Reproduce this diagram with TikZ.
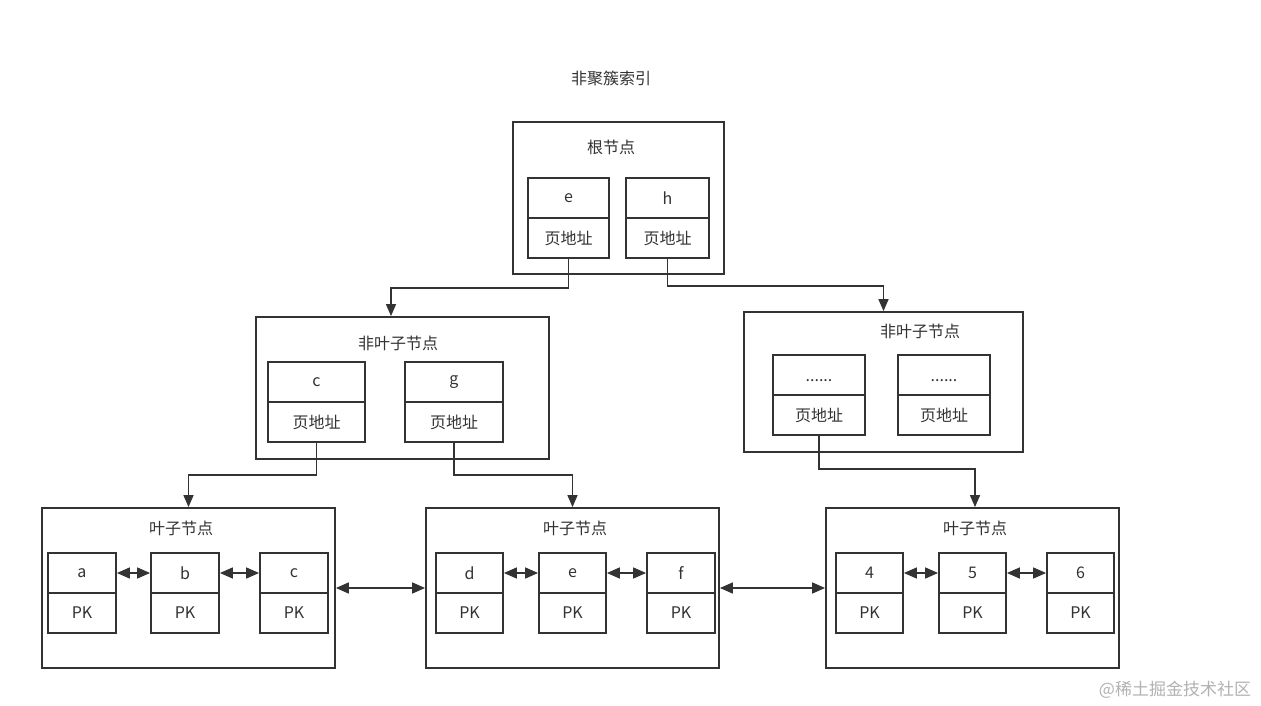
\documentclass[tikz,border=0pt]{standalone}
\usepackage{fontspec}
\setmainfont{Noto Sans CJK SC}
\usetikzlibrary{arrows.meta}
\definecolor{ink}{HTML}{333333}
\begin{document}
\begin{tikzpicture}[x=1pt,y=-1pt,
  every node/.style={font=\fontsize{16}{19}\selectfont, text=ink},
  frame/.style={draw=ink, line width=1.8pt, inner sep=0pt},
  cell/.style={draw=ink, line width=1.8pt, inner sep=0pt, minimum height=40pt},
  label/.style={inner sep=0pt},
  arr/.style={draw=ink, line width=1.5pt, -{Triangle[length=12pt,width=10pt]}},
  darr/.style={draw=ink, line width=1.5pt, {Triangle[length=13pt,width=11pt]}-{Triangle[length=13pt,width=11pt]}}
]
\useasboundingbox[fill=white] (0,0) rectangle (1261,706);

% title
\node[label] (title) at (611,78) {非聚簇索引};

% root
\node[frame, minimum width=211pt, minimum height=152pt] (root) at (618.5,198) {};
\node[label] (roott) at (611,147) {根节点};
\node[cell, minimum width=81pt] (re) at (568.5,198) {e};
\node[cell, minimum width=81pt] (rea) at (568.5,238) {页地址};
\node[cell, minimum width=83pt] (rh) at (667.5,198) {h};
\node[cell, minimum width=83pt] (rha) at (667.5,238) {页地址};

% non-leaf left
\node[frame, minimum width=293pt, minimum height=142pt] (nl1) at (402.5,388) {};
\node[label] (nl1t) at (398,343) {非叶子节点};
\node[cell, minimum width=97pt] (nc) at (316.5,382) {c};
\node[cell, minimum width=97pt] (nca) at (316.5,422) {页地址};
\node[cell, minimum width=98pt] (ng) at (454,382) {g};
\node[cell, minimum width=98pt] (nga) at (454,422) {页地址};

% non-leaf right
\node[frame, minimum width=279pt, minimum height=140pt] (nl2) at (883.5,382) {};
\node[label] (nl2t) at (920,331) {非叶子节点};
\node[cell, minimum width=92pt] (nd1) at (819,375) {\smash{\raisebox{-6pt}{......}}};
\node[cell, minimum width=92pt] (nd1a) at (819,415) {页地址};
\node[cell, minimum width=92pt] (nd2) at (944,375) {\smash{\raisebox{-6pt}{......}}};
\node[cell, minimum width=92pt] (nd2a) at (944,415) {页地址};

% leaves
\node[frame, minimum width=293pt, minimum height=160pt] (lf1) at (188.5,588) {};
\node[label] (lf1t) at (181,528) {叶子节点};
\node[frame, minimum width=293pt, minimum height=160pt] (lf2) at (572.5,588) {};
\node[label] (lf2t) at (575,528) {叶子节点};
\node[frame, minimum width=293pt, minimum height=160pt] (lf3) at (972.5,588) {};
\node[label] (lf3t) at (975,528) {叶子节点};

\node[cell, minimum width=68pt] (la) at (82,573) {a};
\node[cell, minimum width=68pt] (lak) at (82,613) {PK};
\node[cell, minimum width=68pt] (lb) at (185,573) {b};
\node[cell, minimum width=68pt] (lbk) at (185,613) {PK};
\node[cell, minimum width=68pt] (lc) at (294,573) {c};
\node[cell, minimum width=68pt] (lck) at (294,613) {PK};

\node[cell, minimum width=67pt] (ld) at (469.5,573) {d};
\node[cell, minimum width=67pt] (ldk) at (469.5,613) {PK};
\node[cell, minimum width=67pt] (le) at (572.5,573) {e};
\node[cell, minimum width=67pt] (lek) at (572.5,613) {PK};
\node[cell, minimum width=68pt] (lf) at (681,573) {f};
\node[cell, minimum width=68pt] (lfk) at (681,613) {PK};

\node[cell, minimum width=67pt] (l4) at (869.5,573) {4};
\node[cell, minimum width=67pt] (l4k) at (869.5,613) {PK};
\node[cell, minimum width=67pt] (l5) at (972.5,573) {5};
\node[cell, minimum width=67pt] (l5k) at (972.5,613) {PK};
\node[cell, minimum width=67pt] (l6) at (1080.5,573) {6};
\node[cell, minimum width=67pt] (l6k) at (1080.5,613) {PK};

% tree connectors
\draw[arr] (rea.south) -- ++(0,29) -| ([xshift=-11.5pt]nl1.north);
\draw[arr] (rha.south) -- ++(0,27) -| (nl2.north);
\draw[arr] (nca.south) -- ++(0,32) -| (lf1.north);
\draw[arr] (nga.south) -- ++(0,32) -| (lf2.north);
\draw[arr] (nd1a.south) -- ++(0,33) -| ([xshift=2.5pt]lf3.north);

% sibling links
\draw[darr] (lf1.east) -- (lf2.west);
\draw[darr] (lf2.east) -- (lf3.west);
\draw[darr] (la.east) -- (lb.west);
\draw[darr] (lb.east) -- (lc.west);
\draw[darr] (ld.east) -- (le.west);
\draw[darr] (le.east) -- (lf.west);
\draw[darr] (l4.east) -- (l5.west);
\draw[darr] (l5.east) -- (l6.west);

% watermark
\node[label, text=black!30, font=\fontsize{17}{20}\selectfont] (wm) at (1175,690) {@稀土掘金技术社区};
\end{tikzpicture}
\end{document}
